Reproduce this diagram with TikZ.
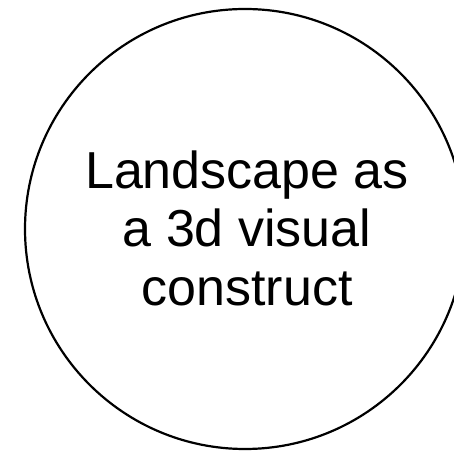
\documentclass[tikz,border=0pt]{standalone}
\usepackage{fontspec}
\setmainfont{Liberation Sans}
\begin{document}
\begin{tikzpicture}[x=1pt,y=1pt,
  txt/.style={anchor=base,inner sep=0pt,font=\fontsize{52}{58}\selectfont}]
\useasboundingbox (0,0) rectangle (454,454);
\clip (0,0) rectangle (454,454);
\fill[white] (0,0) rectangle (454,454);
\node[draw,circle,line width=2.2pt,minimum size=440pt,inner sep=0pt] (c) at (245,225) {};
\node[txt] (l1) at (247,265) {Landscape as};
\node[txt] (l2) at (247,207) {a 3d visual};
\node[txt] (l3) at (247,148) {construct};
\end{tikzpicture}
\end{document}
